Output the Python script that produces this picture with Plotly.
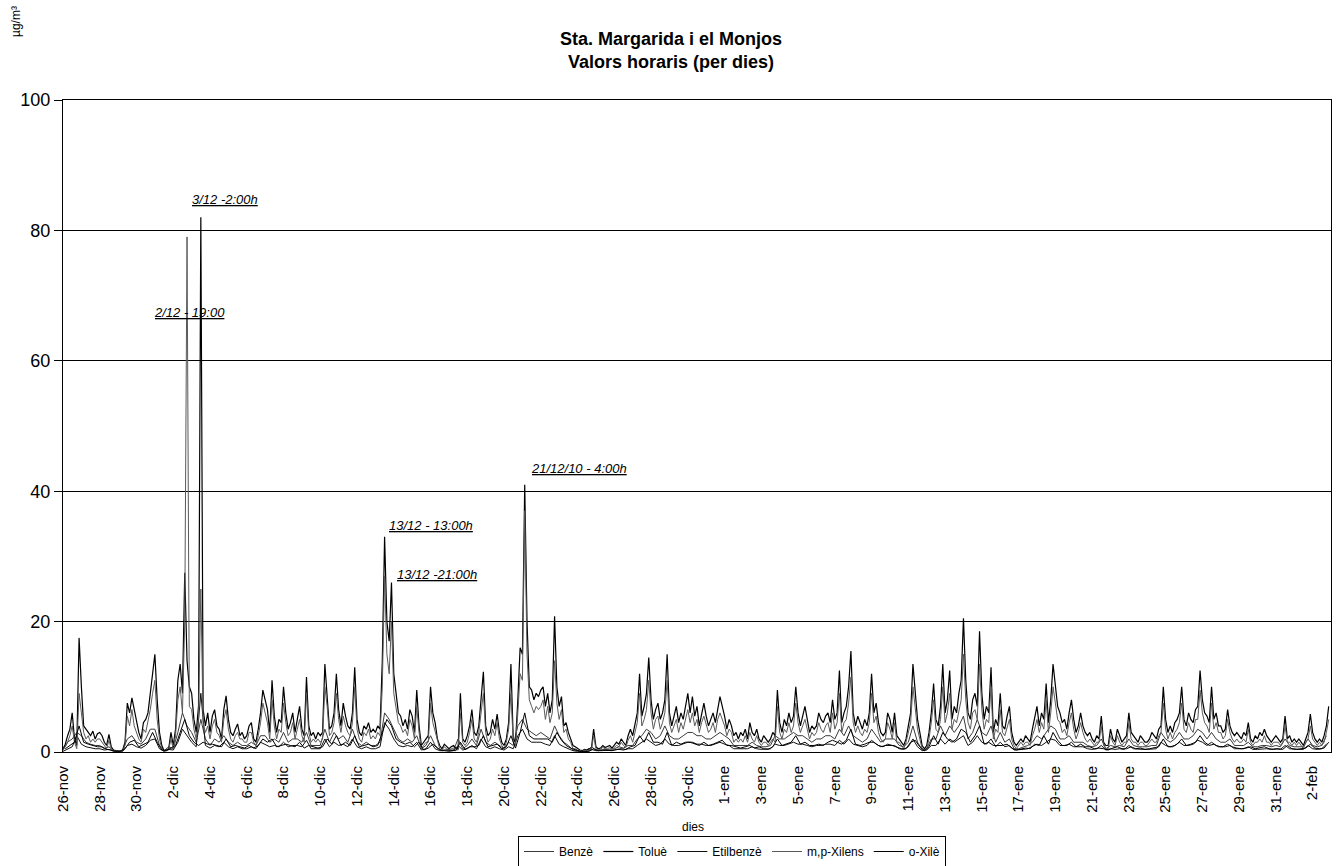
import pandas as pd
import plotly.graph_objects as go

# Hourly BTEX values at a coarser step (estimates).
# Toluè and m,p-Xilens: every 3 h (00,03,...,21), one line per day from 26-nov.
toluene = [
    0.5, 1.2, 2.5, 3.5, 6.0, 2.0, 1.0, 17.5,
    10.0, 4.0, 3.5, 3.0, 2.5, 3.2, 2.0, 2.8,
    3.0, 2.5, 1.5, 1.0, 2.7, 0.8, 0.3, 0.2,
    0.2, 0.1, 0.3, 1.5, 7.5, 6.0, 8.3, 6.5,
    4.5, 3.0, 2.0, 4.5, 5.0, 6.0, 9.0, 12.5,
    15.0, 8.0, 3.0, 1.0, 0.2, 0.3, 0.5, 3.0,
    1.0, 3.5, 11.0, 13.5, 9.0, 27.5, 14.0, 10.0,
    9.0, 5.0, 3.0, 7.0, 82.0, 6.5, 4.0, 6.0,
    3.0, 5.5, 6.5, 4.0, 3.5, 2.0, 6.5, 8.6,
    5.0, 3.0, 2.5, 3.5, 4.3, 2.5, 3.0, 2.0,
    2.5, 4.0, 4.5, 2.0, 1.5, 3.5, 6.0, 9.5,
    8.0, 6.5, 3.0, 11.0, 5.5, 3.0, 5.0, 4.5,
    10.0, 6.0, 3.5, 4.5, 6.0, 3.0, 5.0, 7.0,
    3.5, 2.5, 11.5, 4.0, 2.5, 3.0, 2.0, 3.0,
    2.5, 3.0, 13.5, 9.0, 3.5, 4.0, 6.0, 12.0,
    6.5, 4.0, 7.5, 5.5, 4.0, 3.5, 6.0, 13.0,
    5.0, 3.0, 2.5, 4.0, 3.5, 4.5, 3.0, 3.5,
    3.0, 4.0, 3.5, 14.0, 33.0, 20.0, 17.0, 26.0,
    12.0, 9.0, 6.0, 5.5, 4.0, 5.0, 3.5, 6.5,
    5.5, 3.0, 9.5, 4.0, 1.0, 1.5, 2.0, 2.5,
    10.0, 6.0, 4.5, 2.0, 1.0, 0.5, 1.2, 0.8,
    0.5, 0.8, 1.0, 0.6, 0.5, 9.0, 2.0, 1.5,
    2.5, 4.0, 6.5, 3.0, 2.5, 4.0, 8.0, 12.3,
    4.0, 2.5, 3.0, 5.0, 3.5, 5.8, 3.0, 1.5,
    1.0, 2.0, 4.5, 13.5, 2.0, 1.5, 8.0, 16.0,
    15.0, 41.0, 20.0, 10.0, 9.5, 8.0, 9.0, 8.5,
    9.5, 10.0, 7.0, 9.0, 6.0, 8.0, 20.8, 10.0,
    7.0, 8.5, 4.0, 4.5, 3.0, 2.0, 1.0, 0.8,
    0.5, 0.3, 0.2, 0.4, 0.3, 0.5, 0.4, 3.5,
    0.8, 0.5, 0.6, 1.0, 0.7, 0.8, 1.0, 0.6,
    1.0, 1.5, 1.2, 2.0, 1.5, 1.0, 2.5, 3.5,
    2.5, 4.0, 6.0, 12.0, 5.5, 7.0, 9.0, 14.5,
    8.0, 5.0, 6.5, 7.5, 5.0, 6.0, 8.0, 15.0,
    6.0, 4.0, 5.5, 7.0, 4.5, 6.0, 5.0, 7.0,
    9.0, 6.0, 8.5, 5.5, 7.0, 4.0, 6.0, 7.5,
    5.5, 4.0, 5.0, 6.0, 4.5, 6.5, 8.5, 7.0,
    5.5, 3.5, 5.0, 4.0, 2.5, 3.0, 2.0, 3.0,
    2.5, 3.5, 2.0, 4.5, 3.0, 2.5, 3.5, 2.0,
    1.5, 2.5, 2.0, 1.5, 2.0, 3.0, 2.5, 9.5,
    4.5, 3.0, 5.0, 4.0, 6.0, 4.5, 5.5, 10.0,
    6.0, 4.0, 5.5, 7.0, 5.0, 3.0, 4.0, 3.5,
    4.0, 6.0, 5.0, 4.5, 5.5, 6.0, 4.5, 8.0,
    5.0, 6.0, 12.5, 4.5, 6.0, 7.0, 10.0, 15.5,
    6.0, 4.0, 5.5, 4.5, 3.5, 5.0, 4.0, 6.0,
    12.0, 6.0, 7.5, 4.5, 3.0, 2.5, 3.0, 6.0,
    5.0, 3.0, 6.0, 2.5, 2.0, 1.5, 1.0, 2.0,
    4.0, 6.0, 13.5, 9.0, 5.0, 3.0, 1.0, 0.5,
    1.0, 3.0, 6.0, 10.5, 5.0, 4.0, 7.0, 13.5,
    6.0, 8.0, 12.5, 5.0, 7.0, 6.0, 9.0, 11.0,
    20.5, 11.0, 6.0, 5.0, 8.0, 9.0, 7.0, 18.5,
    9.0, 5.0, 7.0, 6.0, 13.0, 3.0, 5.0, 4.0,
    9.0, 4.0, 3.5, 5.5, 7.0, 3.0, 1.5, 1.0,
    1.5, 2.0, 1.5, 2.5, 2.0, 1.5, 3.5, 5.0,
    7.0, 4.0, 6.0, 5.0, 10.5, 4.5, 8.0, 13.5,
    10.0, 7.0, 6.0, 4.5, 5.0, 3.5, 6.0, 8.0,
    5.0, 3.0, 4.0, 6.0, 4.0, 3.0, 2.5, 3.0,
    2.0, 1.5, 2.5, 2.0, 5.5, 1.5, 1.0, 1.0,
    3.5, 2.0, 1.5, 3.5, 2.5, 1.5, 2.0, 2.5,
    6.0, 3.0, 2.5, 2.0, 1.5, 2.5, 2.0, 1.5,
    1.5, 2.0, 3.0, 2.5, 2.0, 3.5, 4.0, 10.0,
    5.0, 3.0, 4.0, 3.0, 4.5, 5.0, 6.0, 10.0,
    5.0, 4.0, 6.0, 5.0, 4.5, 6.5, 7.0, 12.5,
    8.0, 6.0, 5.5, 4.5, 10.0, 5.0, 6.0, 4.0,
    4.0, 3.0, 3.5, 6.5, 4.0, 3.0, 2.5, 3.0,
    2.5, 2.0, 3.0, 2.5, 4.5, 2.0, 1.5, 2.5,
    2.0, 3.0, 2.5, 3.5, 2.5, 2.0, 1.5, 2.0,
    2.5, 2.0, 1.5, 2.0, 5.5, 2.0, 2.5, 1.5,
    2.0, 1.5, 2.0, 1.5, 1.0, 2.0, 3.0, 5.8,
    3.0, 2.0, 1.5, 2.0, 1.5, 2.5, 4.0, 7.0,
]

mp_xylene = [
    0.3, 0.8, 1.5, 2.5, 4.0, 1.5, 0.5, 9.0,
    6.0, 3.0, 2.0, 2.5, 1.5, 2.0, 1.5, 2.0,
    2.0, 1.5, 1.0, 0.5, 1.8, 0.5, 0.2, 0.1,
    0.1, 0.1, 0.2, 1.0, 5.5, 4.0, 6.5, 4.0,
    3.0, 2.0, 1.5, 3.5, 3.0, 4.5, 6.5, 9.0,
    11.0, 5.0, 2.0, 0.5, 0.1, 0.2, 0.3, 2.0,
    0.5, 2.5, 8.0, 10.0, 6.0, 20.0, 79.0, 7.0,
    6.5, 3.5, 2.0, 5.0, 25.0, 4.5, 3.0, 4.0,
    2.0, 4.0, 5.0, 3.0, 2.5, 1.5, 5.0, 6.5,
    3.5, 2.0, 1.5, 2.5, 3.0, 2.0, 2.0, 1.5,
    1.5, 3.0, 3.0, 1.5, 1.0, 2.5, 4.5, 7.5,
    6.0, 4.5, 2.0, 8.0, 4.0, 2.0, 3.5, 3.0,
    7.5, 4.5, 2.5, 3.0, 4.5, 2.0, 3.5, 5.0,
    2.5, 1.5, 9.0, 3.0, 1.5, 2.0, 1.5, 2.0,
    1.5, 2.0, 10.0, 7.0, 2.5, 3.0, 4.5, 9.0,
    5.0, 3.0, 5.5, 4.0, 3.0, 2.5, 4.5, 10.0,
    3.5, 2.0, 1.5, 3.0, 2.5, 3.5, 2.0, 2.5,
    2.0, 3.0, 2.5, 10.0, 27.0, 15.0, 12.0, 20.0,
    9.0, 7.0, 4.5, 4.0, 3.0, 3.5, 2.5, 5.0,
    4.0, 2.0, 7.0, 3.0, 0.5, 1.0, 1.5, 1.5,
    7.5, 4.5, 3.0, 1.5, 0.5, 0.3, 0.8, 0.5,
    0.3, 0.5, 0.6, 0.4, 0.3, 6.0, 1.5, 1.0,
    1.5, 3.0, 5.0, 2.0, 1.5, 3.0, 6.0, 9.0,
    3.0, 1.5, 2.0, 3.5, 2.5, 4.5, 2.0, 1.0,
    0.5, 1.5, 3.5, 9.0, 1.5, 1.0, 6.0, 12.0,
    11.0, 37.0, 15.0, 8.0, 7.0, 6.0, 7.0, 6.5,
    7.0, 8.0, 5.0, 7.0, 4.5, 6.0, 14.0, 7.5,
    5.0, 6.5, 3.0, 3.5, 2.0, 1.5, 0.5, 0.5,
    0.3, 0.2, 0.1, 0.3, 0.2, 0.3, 0.3, 2.5,
    0.5, 0.3, 0.4, 0.7, 0.5, 0.5, 0.7, 0.4,
    0.7, 1.0, 0.8, 1.5, 1.0, 0.7, 1.8, 2.5,
    1.5, 3.0, 4.5, 9.0, 4.0, 5.0, 6.5, 11.0,
    6.0, 3.5, 5.0, 5.5, 3.5, 4.5, 6.0, 11.0,
    4.5, 3.0, 4.0, 5.0, 3.0, 4.5, 3.5, 5.0,
    6.5, 4.5, 6.0, 4.0, 5.0, 3.0, 4.5, 5.5,
    4.0, 3.0, 3.5, 4.5, 3.0, 5.0, 6.0, 5.0,
    4.0, 2.5, 3.5, 3.0, 1.5, 2.0, 1.5, 2.0,
    1.5, 2.5, 1.5, 3.0, 2.0, 1.5, 2.5, 1.5,
    1.0, 1.5, 1.5, 1.0, 1.5, 2.0, 1.5, 7.0,
    3.0, 2.0, 3.5, 3.0, 4.5, 3.0, 4.0, 7.5,
    4.5, 3.0, 4.0, 5.0, 3.5, 2.0, 3.0, 2.5,
    3.0, 4.5, 3.5, 3.0, 4.0, 4.5, 3.0, 6.0,
    3.5, 4.5, 9.0, 3.0, 4.5, 5.0, 7.5, 11.5,
    4.5, 3.0, 4.0, 3.0, 2.5, 3.5, 3.0, 4.5,
    9.0, 4.5, 5.5, 3.0, 2.0, 1.5, 2.0, 4.5,
    3.5, 2.0, 4.5, 1.5, 1.5, 1.0, 0.5, 1.5,
    3.0, 4.5, 10.0, 6.5, 3.5, 2.0, 0.5, 0.3,
    0.5, 2.0, 4.5, 8.0, 3.5, 3.0, 5.0, 10.0,
    4.5, 6.0, 9.0, 3.5, 5.0, 4.5, 6.5, 8.0,
    15.0, 8.0, 4.5, 3.5, 6.0, 6.5, 5.0, 13.5,
    6.5, 3.5, 5.0, 4.5, 10.0, 2.0, 3.5, 3.0,
    6.5, 3.0, 2.5, 4.0, 5.0, 2.0, 1.0, 0.5,
    1.0, 1.5, 1.0, 1.5, 1.5, 1.0, 2.5, 3.5,
    5.0, 3.0, 4.5, 3.5, 8.0, 3.0, 6.0, 10.0,
    7.5, 5.0, 4.5, 3.0, 3.5, 2.5, 4.5, 6.0,
    3.5, 2.0, 3.0, 4.5, 3.0, 2.0, 1.5, 2.0,
    1.5, 1.0, 1.5, 1.5, 4.0, 1.0, 0.5, 0.5,
    2.5, 1.5, 1.0, 2.5, 1.5, 1.0, 1.5, 1.5,
    4.5, 2.0, 1.5, 1.5, 1.0, 1.5, 1.5, 1.0,
    1.0, 1.5, 2.0, 1.5, 1.5, 2.5, 3.0, 7.5,
    3.5, 2.0, 3.0, 2.0, 3.0, 3.5, 4.5, 7.5,
    3.5, 3.0, 4.5, 3.5, 3.0, 5.0, 5.0, 9.5,
    6.0, 4.5, 4.0, 3.0, 7.5, 3.5, 4.5, 3.0,
    3.0, 2.0, 2.5, 5.0, 3.0, 2.0, 1.5, 2.0,
    1.5, 1.5, 2.0, 1.5, 3.5, 1.5, 1.0, 1.5,
    1.5, 2.0, 1.5, 2.5, 1.5, 1.5, 1.0, 1.5,
    1.5, 1.5, 1.0, 1.5, 4.0, 1.5, 1.5, 1.0,
    1.5, 1.0, 1.5, 1.0, 0.5, 1.5, 2.0, 4.0,
    2.0, 1.5, 1.0, 1.5, 1.0, 1.5, 3.0, 5.0,
]

# Benzè and Etilbenzè: every 6 h (00,06,12,18); o-Xilè: every 6 h (03,09,15,21).
benzene = [
    0.3, 1.5, 2.0, 3.0,   2.5, 1.5, 1.2, 1.0,   1.0, 0.5, 0.8, 0.2,   0.1, 0.3, 2.0, 2.5,
    1.5, 1.2, 2.0, 3.5,   3.5, 1.0, 0.2, 0.8,   0.5, 3.0, 6.0, 4.0,   3.0, 1.5, 5.0, 2.0,
    1.0, 2.0, 1.5, 2.5,   1.5, 1.0, 1.5, 1.0,   1.0, 1.5, 1.0, 2.5,   2.5, 1.5, 2.0, 1.5,
    3.0, 1.5, 2.0, 2.0,   1.5, 3.0, 1.0, 1.0,   1.0, 3.5, 1.5, 3.0,   2.0, 2.5, 1.5, 3.5,
    1.5, 1.0, 1.5, 1.0,   1.0, 1.5, 6.0, 5.0,   3.5, 2.0, 1.5, 2.0,   1.5, 2.5, 0.5, 1.0,
    2.5, 1.0, 0.3, 0.3,   0.2, 0.3, 2.0, 0.5,   1.0, 2.0, 1.0, 3.5,   1.5, 1.0, 1.5, 1.0,
    0.5, 1.5, 1.0, 4.0,   5.0, 3.5, 3.0, 2.5,   3.0, 2.5, 2.0, 4.0,   2.5, 1.5, 1.0, 0.3,
    0.2, 0.1, 0.1, 0.8,   0.3, 0.3, 0.4, 0.4,   0.5, 0.8, 0.6, 1.0,   1.0, 2.0, 2.5, 3.5,
    3.0, 2.0, 2.5, 4.0,   2.5, 2.0, 2.0, 2.5,   3.0, 3.0, 2.5, 2.5,   2.0, 2.0, 2.5, 3.0,
    2.5, 2.0, 1.0, 1.0,   1.0, 1.0, 1.5, 1.0,   0.8, 0.8, 1.0, 2.5,   2.0, 2.0, 2.5, 3.0,
    2.5, 2.5, 2.0, 1.5,   2.0, 2.0, 2.5, 2.5,   2.0, 3.5, 2.5, 4.0,   2.5, 2.0, 1.5, 2.0,
    3.5, 2.5, 1.5, 2.0,   2.0, 2.0, 1.0, 0.8,   1.5, 4.0, 1.5, 0.3,   0.5, 2.0, 2.0, 4.0,
    2.5, 4.0, 3.0, 4.0,   5.5, 2.0, 3.0, 5.0,   3.0, 2.5, 4.0, 1.5,   3.0, 1.5, 2.0, 0.5,
    0.5, 0.8, 1.0, 1.5,   2.5, 2.0, 3.0, 4.0,   3.5, 2.0, 2.0, 2.5,   1.5, 1.5, 1.5, 1.0,
    0.8, 1.0, 2.0, 0.5,   1.0, 0.8, 1.0, 0.8,   2.0, 1.0, 0.8, 0.8,   0.8, 1.0, 1.0, 3.0,
    2.0, 1.5, 2.0, 3.0,   2.0, 2.0, 2.5, 3.5,   3.0, 2.0, 3.0, 2.0,   1.5, 1.5, 2.0, 1.0,
    1.0, 1.0, 1.5, 0.8,   0.8, 1.0, 1.0, 0.8,   1.0, 0.8, 2.0, 1.0,   0.8, 0.8, 0.8, 2.0,
    1.0, 0.8, 1.0, 2.5,
]

ethylbenzene = [
    0.1, 0.4, 0.8, 2.5,   1.2, 0.8, 0.6, 0.5,   0.5, 0.3, 0.4, 0.1,   0.1, 0.1, 1.0, 1.2,
    0.8, 0.6, 1.0, 1.8,   2.0, 0.5, 0.1, 0.4,   0.3, 1.5, 3.5, 2.5,   1.5, 0.8, 9.0, 1.0,
    0.6, 1.0, 0.8, 1.5,   0.8, 0.5, 0.8, 0.5,   0.5, 0.8, 0.5, 1.5,   1.2, 0.8, 1.0, 0.8,
    1.5, 0.8, 1.0, 1.0,   0.8, 1.8, 0.5, 0.5,   0.5, 2.0, 0.8, 1.5,   1.0, 1.2, 0.8, 2.0,
    0.8, 0.5, 0.8, 0.5,   0.5, 0.8, 4.5, 3.5,   2.0, 1.0, 0.8, 1.0,   0.8, 1.5, 0.3, 0.5,
    1.5, 0.5, 0.2, 0.2,   0.1, 0.2, 1.0, 0.3,   0.5, 1.0, 0.5, 2.0,   0.8, 0.5, 0.8, 0.5,
    0.3, 0.8, 0.5, 2.5,   3.5, 2.0, 1.5, 1.5,   1.5, 1.2, 1.0, 2.5,   1.2, 0.8, 0.5, 0.2,
    0.1, 0.1, 0.1, 0.4,   0.2, 0.2, 0.2, 0.2,   0.3, 0.4, 0.3, 0.5,   0.5, 1.0, 1.5, 2.0,
    1.5, 1.0, 1.2, 2.0,   1.2, 1.0, 1.0, 1.2,   1.5, 1.5, 1.2, 1.2,   1.0, 1.0, 1.2, 1.5,
    1.2, 1.0, 0.5, 0.5,   0.5, 0.5, 0.8, 0.5,   0.4, 0.4, 0.5, 1.2,   1.0, 1.0, 1.2, 1.5,
    1.2, 1.2, 1.0, 0.8,   1.0, 1.0, 1.2, 1.2,   1.0, 1.8, 1.2, 2.0,   1.2, 1.0, 0.8, 1.0,
    1.8, 1.2, 0.8, 1.0,   1.0, 1.0, 0.5, 0.4,   0.8, 2.0, 0.8, 0.2,   0.3, 1.0, 1.0, 2.0,
    1.2, 2.0, 1.5, 2.0,   2.5, 1.0, 1.5, 2.5,   1.5, 1.2, 2.0, 0.8,   1.5, 0.8, 1.0, 0.3,
    0.3, 0.4, 0.5, 0.8,   1.2, 1.0, 1.5, 2.0,   1.8, 1.0, 1.0, 1.2,   0.8, 0.8, 0.8, 0.5,
    0.4, 0.5, 1.0, 0.3,   0.5, 0.4, 0.5, 0.4,   1.0, 0.5, 0.4, 0.4,   0.4, 0.5, 0.5, 1.5,
    1.0, 0.8, 1.0, 1.5,   1.0, 1.0, 1.2, 1.8,   1.5, 1.0, 1.5, 1.0,   0.8, 0.8, 1.0, 0.5,
    0.5, 0.5, 0.8, 0.4,   0.4, 0.5, 0.5, 0.4,   0.5, 0.4, 1.0, 0.5,   0.4, 0.4, 0.4, 1.0,
    0.5, 0.4, 0.5, 1.2,
]

o_xylene = [
    0.5, 1.0, 1.5, 4.0,   1.5, 1.2, 1.0, 0.8,   0.8, 0.4, 0.3, 0.1,   0.1, 0.5, 1.5, 1.8,
    0.8, 1.2, 1.5, 3.0,   1.5, 0.3, 0.2, 0.6,   1.0, 3.0, 5.0, 2.5,   1.5, 1.0, 1.5, 1.2,
    1.2, 1.0, 0.8, 2.0,   0.8, 1.0, 0.8, 0.6,   1.0, 0.6, 1.0, 2.0,   1.5, 2.0, 0.8, 1.0,
    1.2, 1.0, 0.8, 1.5,   0.6, 1.0, 0.8, 0.6,   0.8, 2.0, 1.2, 2.5,   1.0, 1.5, 1.0, 2.5,
    0.8, 1.0, 1.2, 0.8,   1.0, 3.0, 5.0, 4.0,   2.0, 1.5, 1.2, 1.5,   0.8, 1.5, 0.3, 0.6,
    1.2, 0.6, 0.2, 0.3,   0.2, 0.2, 1.5, 0.4,   0.8, 0.8, 1.0, 2.5,   0.8, 1.0, 1.2, 0.5,
    0.8, 2.5, 0.6, 3.0,   6.0, 2.5, 2.0, 2.0,   2.0, 2.0, 1.5, 3.0,   1.8, 1.0, 0.6, 0.3,
    0.1, 0.1, 0.1, 0.5,   0.2, 0.3, 0.2, 0.2,   0.4, 0.5, 0.4, 0.8,   1.0, 2.5, 1.5, 3.0,
    1.5, 1.5, 1.2, 3.0,   1.0, 1.5, 1.2, 1.5,   1.5, 1.2, 1.0, 1.5,   1.0, 1.2, 1.5, 1.8,
    1.0, 1.0, 0.8, 0.6,   0.8, 1.0, 0.6, 0.8,   0.5, 0.4, 0.8, 2.0,   1.0, 1.2, 1.5, 2.5,
    1.2, 1.5, 1.0, 1.0,   1.2, 1.0, 1.5, 1.8,   1.5, 1.2, 1.8, 3.5,   1.2, 1.0, 1.2, 1.5,
    1.5, 1.0, 0.8, 1.2,   1.0, 0.8, 0.5, 0.5,   1.5, 1.8, 0.8, 0.2,   0.8, 2.5, 1.2, 3.0,
    2.0, 1.5, 2.0, 3.5,   3.0, 1.5, 2.5, 4.0,   1.2, 1.5, 1.0, 1.0,   1.0, 1.2, 0.6, 0.3,
    0.5, 0.6, 0.5, 1.2,   1.0, 2.5, 1.2, 3.0,   1.8, 1.0, 1.0, 1.5,   0.8, 1.2, 0.8, 0.8,
    0.5, 0.6, 0.5, 0.3,   0.6, 0.8, 0.5, 0.5,   0.8, 0.5, 0.6, 0.4,   0.5, 0.6, 0.8, 2.0,
    0.8, 0.8, 1.2, 2.0,   1.0, 1.2, 1.5, 2.5,   1.5, 1.0, 1.2, 0.8,   0.8, 1.2, 0.8, 0.6,
    0.5, 0.6, 0.8, 0.5,   0.6, 0.8, 0.5, 0.4,   0.5, 0.4, 1.0, 0.5,   0.4, 0.5, 0.6, 1.2,
    0.6, 0.5, 0.6, 1.5,
]

tick_labels = [
    "26-nov", "28-nov", "30-nov",
    "2-dic", "4-dic", "6-dic", "8-dic", "10-dic", "12-dic", "14-dic", "16-dic",
    "18-dic", "20-dic", "22-dic", "24-dic", "26-dic", "28-dic", "30-dic",
    "1-ene", "3-ene", "5-ene", "7-ene", "9-ene", "11-ene", "13-ene", "15-ene",
    "17-ene", "19-ene", "21-ene", "23-ene", "25-ene", "27-ene", "29-ene", "31-ene",
    "2-feb",
]

peak_notes = [
    ("3/12 -2:00h", 225, 199),
    ("2/12 - 19:00", 189, 312),
    ("13/12 - 13:00h", 431, 525),
    ("13/12 -21:00h", 437, 574),
    ("21/12/10 - 4:00h", 579, 468),
]

FONT = "Liberation Sans, Arial, sans-serif"
W, H = 1337, 866
L, R, T, B = 63, 6, 100, 114
PW, PH = W - L - R, H - T - B


def px_to_paper(x, y):
    return (x - L) / PW, (H - B - y) / PH


def times(n, step_h, offset_h=0):
    return pd.date_range("2010-11-26", periods=n, freq=f"{step_h}h") + pd.Timedelta(hours=offset_h)


series = [
    ("Benzè", times(len(benzene), 6), benzene, "#3a3a3a", 1.0),
    ("Toluè", times(len(toluene), 3), toluene, "#000000", 1.2),
    ("Etilbenzè", times(len(ethylbenzene), 6), ethylbenzene, "#111111", 1.0),
    ("m,p-Xilens", times(len(mp_xylene), 3), mp_xylene, "#5a5a5a", 1.0),
    ("o-Xilè", times(len(o_xylene), 6, 3), o_xylene, "#000000", 1.0),
]

fig = go.Figure()
for name, x, y, color, width in series:
    fig.add_trace(go.Scatter(x=x, y=y, name=name, mode="lines",
                             line={"color": color, "width": width}))


def note(text, x, y, size, **kw):
    xp, yp = px_to_paper(x, y)
    return dict(text=text, x=xp, y=yp, xref="paper", yref="paper", showarrow=False,
                xanchor="center", yanchor="middle",
                font={"size": size, "color": "black", "family": FONT}, **kw)


annotations = [note(f"<i><u>{text}</u></i>", x, y, 13) for text, x, y in peak_notes]
annotations.append(note("<b>Sta. Margarida i el Monjos</b><br><b>Valors horaris (per dies)</b>", 671, 50, 18))
annotations.append(note("µg/m³", 16, 22, 12, textangle=-90))
annotations.append(note("dies", 693, 827, 12))

fig.update_layout(
    width=W, height=H,
    margin={"l": L, "r": R, "t": T, "b": B, "autoexpand": False},
    paper_bgcolor="white", plot_bgcolor="white",
    font={"family": FONT, "color": "black"},
    showlegend=True,
    legend={"orientation": "h", "xref": "container", "yref": "container",
            "x": 732 / W, "y": (H - 836) / H, "xanchor": "center", "yanchor": "top",
            "bordercolor": "black", "borderwidth": 1, "font": {"size": 12}, "itemwidth": 30,
            "tracegroupgap": 0},
    annotations=annotations,
)
fig.update_xaxes(
    range=["2010-11-26", "2011-02-03"],
    tickvals=pd.date_range("2010-11-26", periods=len(tick_labels), freq="2D"),
    ticktext=tick_labels, tickangle=-90, tickfont={"size": 15},
    ticks="outside", ticklen=7, tickcolor="white",
    showgrid=False, showline=True, linecolor="black", linewidth=1, mirror=True, zeroline=False,
)
fig.update_yaxes(
    range=[0, 100], dtick=20, tickfont={"size": 18},
    ticks="outside", ticklen=8, tickcolor="black",
    showgrid=True, gridcolor="black", gridwidth=1,
    showline=True, linecolor="black", linewidth=1, mirror=True, zeroline=False,
)

fig.write_html("out.html", config={"displayModeBar": False},
               post_script="document.body.style.margin='0';")
